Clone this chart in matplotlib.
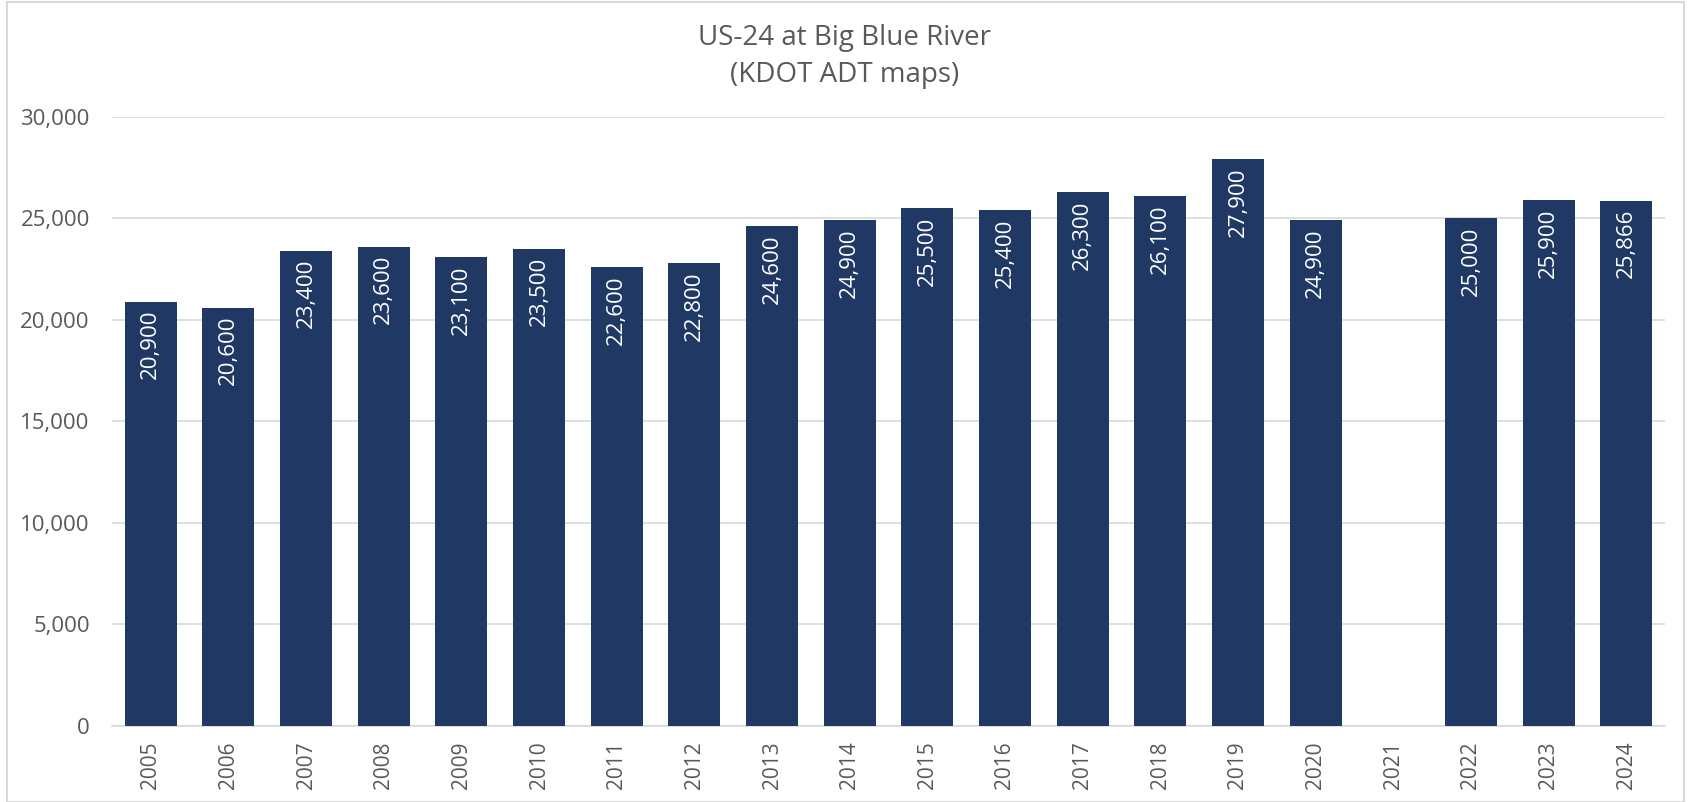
import matplotlib.pyplot as plt
from matplotlib.patches import Rectangle

years = ['2005', '2006', '2007', '2008', '2009', '2010', '2011', '2012', '2013', '2014',
         '2015', '2016', '2017', '2018', '2019', '2020', '2021', '2022', '2023', '2024']
adt = [20900, 20600, 23400, 23600, 23100, 23500, 22600, 22800, 24600, 24900,
       25500, 25400, 26300, 26100, 27900, 24900, None, 25000, 25900, 25866]
yticks = [0, 5000, 10000, 15000, 20000, 25000, 30000]

bar_color = '#203864'
text_color = '#595959'
grid_color = '#d9d9d9'

plt.rcParams['font.family'] = ['Open Sans', 'DejaVu Sans']

fig = plt.figure(figsize=(16.89, 8.02), dpi=100)
ax = fig.add_axes([0.0663, 0.0948, 0.9195, 0.7597])

xs = list(range(len(years)))
vals = [v if v is not None else 0 for v in adt]
bars = ax.bar(xs, vals, width=0.67, color=bar_color, zorder=3)

for x, v in zip(xs, adt):
    if v is None:
        continue
    ax.annotate(f'{v:,}', xy=(x, v), xytext=(0, -6), textcoords='offset points',
                rotation=90, ha='center', va='top', color='white', fontsize=16,
                zorder=4)

ax.set_xlim(-0.5, len(years) - 0.5)
ax.set_ylim(0, 30000)
ax.set_yticks(yticks)
ax.set_yticklabels([f'{t:,}' for t in yticks])
ax.set_xticks(xs)
ax.set_xticklabels(years, rotation=90)
ax.tick_params(axis='both', length=0, labelcolor=text_color)
ax.tick_params(axis='y', pad=16, labelsize=16)
ax.tick_params(axis='x', pad=11, labelsize=15)
ax.grid(axis='y', color=grid_color, linewidth=1.2, zorder=0)
for s in ['left', 'right', 'top']:
    ax.spines[s].set_visible(False)
ax.spines['bottom'].set_color(grid_color)
ax.spines['bottom'].set_linewidth(1.2)

fig.text(0.5, 0.953, 'US-24 at Big Blue River', ha='center', va='center',
         fontsize=20, color=text_color)
fig.text(0.5, 0.906, '(KDOT ADT maps)', ha='center', va='center',
         fontsize=20, color=text_color)

fig.patches.append(Rectangle((0.004, 0.0), 0.993, 0.997, transform=fig.transFigure,
                             fill=False, edgecolor=grid_color, linewidth=1.5))

fig.savefig('out.png', dpi=100)
